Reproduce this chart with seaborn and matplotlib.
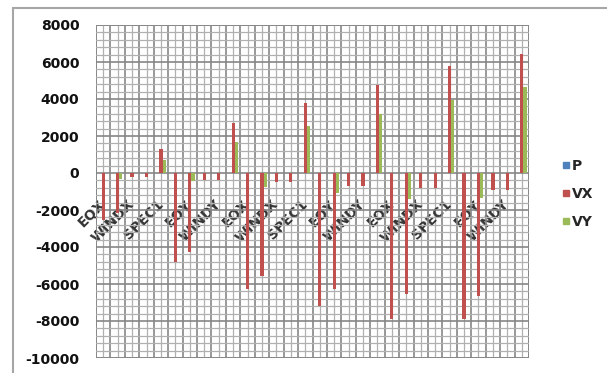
import numpy as np
import pandas as pd
import matplotlib
matplotlib.use("Agg")
import matplotlib.pyplot as plt
import seaborn as sns
from matplotlib.ticker import MultipleLocator, FixedLocator
from matplotlib.lines import Line2D
from matplotlib.patches import Rectangle

# Load cases along the category axis (six groups of five)
categories = [
    "EQX", "EQY", "WINDX", "WINDY", "SPEC1",
    "EQX", "EQY", "WINDX", "WINDY", "SPEC1",
    "EQX", "EQY", "WINDX", "WINDY", "SPEC1",
    "EQX", "EQY", "WINDX", "WINDY", "SPEC1",
    "EQX", "EQY", "WINDX", "WINDY", "SPEC1",
    "EQX", "EQY", "WINDX", "WINDY", "SPEC1",
]
series_names = ["P", "VX", "VY"]
series_colors = ["#4F81BD", "#C0504D", "#9BBB59"]

P = [0] * 30
VX = [-2550, -2150, -230, -230, 1300,
      -4800, -4270, -380, -380, 2700,
      -6250, -5550, -500, -500, 3800,
      -7200, -6250, -690, -690, 4780,
      -7880, -6520, -790, -800, 5760,
      -7890, -6660, -900, -920, 6450]
VY = [0, -320, 0, 0, 720,
      0, -430, 0, 0, 1700,
      0, -780, 0, 0, 2530,
      0, -1060, 0, 0, 3200,
      0, -1390, 0, 0, 3930,
      0, -1340, 0, 0, 4650]

y_ticks = [-10000, -8000, -6000, -4000, -2000, 0, 2000, 4000, 6000, 8000]

n = len(categories)
long = pd.DataFrame({
    "pos": list(range(n)) * 3,
    "series": ["P"] * n + ["VX"] * n + ["VY"] * n,
    "value": P + VX + VY,
})

sns.set_theme(style="white")
plt.rcParams["font.family"] = ["DejaVu Sans"]
plt.rcParams["font.weight"] = "bold"

W, H = 607, 373
fig = plt.figure(figsize=(W / 100, H / 100), dpi=100)
fig.patch.set_facecolor("white")
ax = fig.add_axes([96 / W, (H - 358) / H, (529 - 96) / W, (358 - 25) / H])

sns.barplot(data=long, x="pos", y="value", hue="series", hue_order=series_names,
            order=list(range(n)), palette=series_colors, width=0.667,
            saturation=1, legend=False, ax=ax, linewidth=0, errorbar=None)

ax.set_xlim(-0.5, n - 0.5)
ax.set_ylim(y_ticks[0], y_ticks[-1])
ax.set_xlabel("")
ax.set_ylabel("")

# y grid: major every 2000, minor every 400
ax.yaxis.set_major_locator(FixedLocator(y_ticks))
ax.yaxis.set_minor_locator(MultipleLocator(400))
ax.set_yticklabels([str(v) for v in y_ticks])
# x grid: dark lines at category boundaries, light lines at centres
ax.set_xticks(range(n))
ax.xaxis.set_minor_locator(FixedLocator(np.arange(-0.5, n, 1.0)))
ax.set_xticklabels([c if i % 2 == 0 else "" for i, c in enumerate(categories)])

ax.set_axisbelow(True)
ax.grid(which="major", axis="y", color="#868686", lw=1.2)
ax.grid(which="minor", axis="y", color="#b0b0b0", lw=0.9)
ax.grid(which="minor", axis="x", color="#868686", lw=1.2)
ax.grid(which="major", axis="x", color="#b0b0b0", lw=0.9)

for s in ["top", "right", "left"]:
    ax.spines[s].set_visible(False)
ax.spines["bottom"].set_position(("data", 0))
ax.spines["bottom"].set_visible(False)
ax.add_patch(Rectangle((0, 0), 1, 1, transform=ax.transAxes, fill=False,
                       edgecolor="#868686", lw=1.2, zorder=0.5))

ax.tick_params(axis="both", which="both", length=0)
ax.tick_params(axis="y", pad=12, labelsize=10, labelcolor="#111111")
ax.tick_params(axis="x", pad=21, labelsize=10, labelcolor="#333333")
for lab in ax.get_xticklabels():
    lab.set_rotation(45)
    lab.set_ha("right")
    lab.set_va("center")
    lab.set_rotation_mode("anchor")

handles = [Line2D([], [], marker="s", ls="", color=c, markersize=4.5, label=nm)
           for nm, c in zip(series_names, series_colors)]
fig.legend(handles=handles, loc="center left", bbox_to_anchor=(553 / W, 1 - 194 / H),
           frameon=False, fontsize=10, labelspacing=1.0, handletextpad=0.05,
           handlelength=0.8, borderpad=0)

fig.patches.append(Rectangle((13 / W, -0.2), 1.0, 1.2 - 8 / H, transform=fig.transFigure,
                             fill=False, edgecolor="#a6a6a6", lw=1.5))

fig.savefig("out.png", dpi=100)
